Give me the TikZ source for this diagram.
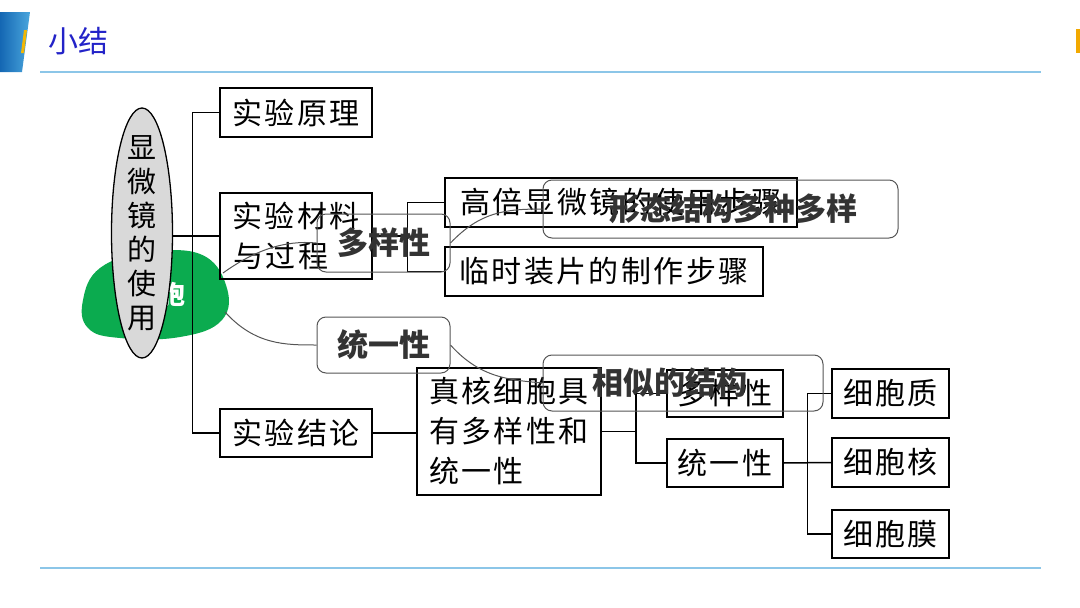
\documentclass[tikz,border=0pt]{standalone}
\usepackage{fontspec}
\newfontfamily\cjk{Noto Sans CJK SC}
\newfontfamily\cjkls{Noto Sans CJK SC}[LetterSpace=8]
\usetikzlibrary{shapes.geometric}
\definecolor{hdrdark}{HTML}{1467B3}
\definecolor{hdrlight}{HTML}{4AA6DD}
\definecolor{hdryellow}{HTML}{F2B705}
\definecolor{titleblue}{HTML}{2323C8}
\definecolor{rulecol}{HTML}{8CC6E8}
\definecolor{hdrorange}{HTML}{F2A900}
\definecolor{blobgreen}{HTML}{0BAB4F}
\definecolor{ellgray}{HTML}{D9D9D9}
\definecolor{handline}{HTML}{555555}
\definecolor{handtext}{HTML}{333333}
\begin{document}
\begin{tikzpicture}[x=1pt,y=-1pt,
  boxnode/.style={draw, line width=1.5pt, inner sep=0pt, align=center,
    font=\cjkls\fontsize{30}{40}\selectfont},
  conn/.style={line width=1.5pt},
  rbox/.style={draw=handline, line width=1pt, rounded corners=9pt, inner sep=0pt},
  btxt/.style={font=\cjk\bfseries\fontsize{31}{31}\selectfont, text=handtext, inner sep=0pt},
  hconn/.style={draw=handline, line width=1pt},
  rulestyle/.style={draw=rulecol, line width=1.6pt}]
\useasboundingbox (0,0) rectangle (1080,608);
% header
\shade[left color=hdrdark, right color=hdrlight] (0,12) -- (30,12) -- (22,72) -- (0,72) -- cycle;
\fill[hdryellow] (24,30) -- (27,30) -- (24,53) -- (21,53) -- cycle;
\node[font=\cjk\fontsize{30}{30}\selectfont, text=titleblue, anchor=west, inner sep=0pt] (title) at (48,41) {小结};
\draw[rulestyle] (40,72) -- (1041,72);
\draw[rulestyle] (40,568) -- (1041,568);
\fill[hdrorange] (1076,29) rectangle (1080,53);
% green blob
\fill[blobgreen] plot[smooth cycle, tension=0.7] coordinates {(83,300) (100,268) (145,253) (200,254) (226,285) (222,320) (180,337) (120,338) (88,328)};
\node[font=\cjk\bfseries\fontsize{26}{26}\selectfont, text=white, inner sep=0pt] (bao) at (172.5,295) {胞};
% layer 1 nodes
\node[ellipse, draw, line width=1.3pt, fill=ellgray, minimum width=61pt, minimum height=250pt, inner sep=0pt] (ell) at (142,233) {};
\node[align=center, inner sep=0pt, font=\cjk\fontsize{29}{34}\selectfont] (ellt) at (ell.center) {显\\微\\镜\\的\\使\\用};
\node[boxnode, minimum width=152pt, minimum height=49pt] (syyl) at (296,112.5) {实验原理};
\node[boxnode, minimum width=152pt, minimum height=86pt] (sycl) at (296,236) {实验材料\\与过程\hphantom{料}};
\node[boxnode, minimum width=352pt, minimum height=49pt] (gb) at (621,202.5) {高倍显微镜的使用步骤};
\node[boxnode, minimum width=318pt, minimum height=49pt] (ls) at (604,271.5) {临时装片的制作步骤};
\node[boxnode, minimum width=152pt, minimum height=48pt] (syjl) at (296,433) {实验结论};
\node[boxnode, minimum width=184pt, minimum height=127pt, align=left] (zh) at (509,431.5) {真核细胞具\\有多样性和\\统一性\hphantom{和具}};
\node[boxnode, minimum width=116pt, minimum height=47pt] (dy) at (725,393.5) {多样性};
\node[boxnode, minimum width=116pt, minimum height=48pt] (ty) at (725,463) {统一性};
\node[boxnode, minimum width=117pt, minimum height=49pt] (xbz) at (890.5,393.5) {细胞质};
\node[boxnode, minimum width=117pt, minimum height=49pt] (xbh) at (890.5,462.5) {细胞核};
\node[boxnode, minimum width=117pt, minimum height=48pt] (xbm) at (890.5,534) {细胞膜};
% layer 1 connectors
\draw[conn] (ell.east |- sycl.west) -- (sycl.west);
\draw[conn] (syyl.west) -- ++(-27,0) |- (syjl.west);
\draw[conn] (sycl.east) -- ++(36,0);
\draw[conn] (gb.west) -- ++(-37,0) |- (ls.west);
\draw[conn] (syjl.east) -- (syjl.east -| zh.west);
\coordinate (j1) at (636,431.5);
\draw[conn] (zh.east) -- (j1);
\draw[conn] (dy.west) -| (j1) |- (ty.west);
\draw[conn] (ty.east) -- (xbh.west);
\draw[conn] (xbz.west) -- ++(-24,0) |- (xbm.west);
% layer 2 (hand-drawn overlay)
\node[rbox, minimum width=133pt, minimum height=58pt] (dyx) at (383.5,243) {};
\node[btxt] (dyxt) at (dyx.center) {多样性};
\node[rbox, minimum width=355pt, minimum height=58pt] (xt) at (720.5,209) {};
\node[btxt] (xtt) at (733,209) {形态结构多种多样};
\node[rbox, minimum width=133pt, minimum height=56pt] (tyx) at (383.5,345) {};
\node[btxt] (tyxt) at (tyx.center) {统一性};
\node[rbox, minimum width=280pt, minimum height=56pt] (xs) at (683,383) {};
\node[btxt] (xst) at (670,383) {相似的结构};
\coordinate (b1) at (223,273);
\coordinate (b2) at (225,312);
\draw[hconn] (b1) .. controls (255,250) and (285,240) .. (dyx.west);
\draw[hconn] (dyx.east) .. controls (480,212) and (505,209) .. (xt.west);
\draw[hconn] (b2) .. controls (255,345) and (285,345) .. (tyx.west);
\draw[hconn] (tyx.east) .. controls (480,378) and (510,380) .. (xs.west);
\end{tikzpicture}
\end{document}
